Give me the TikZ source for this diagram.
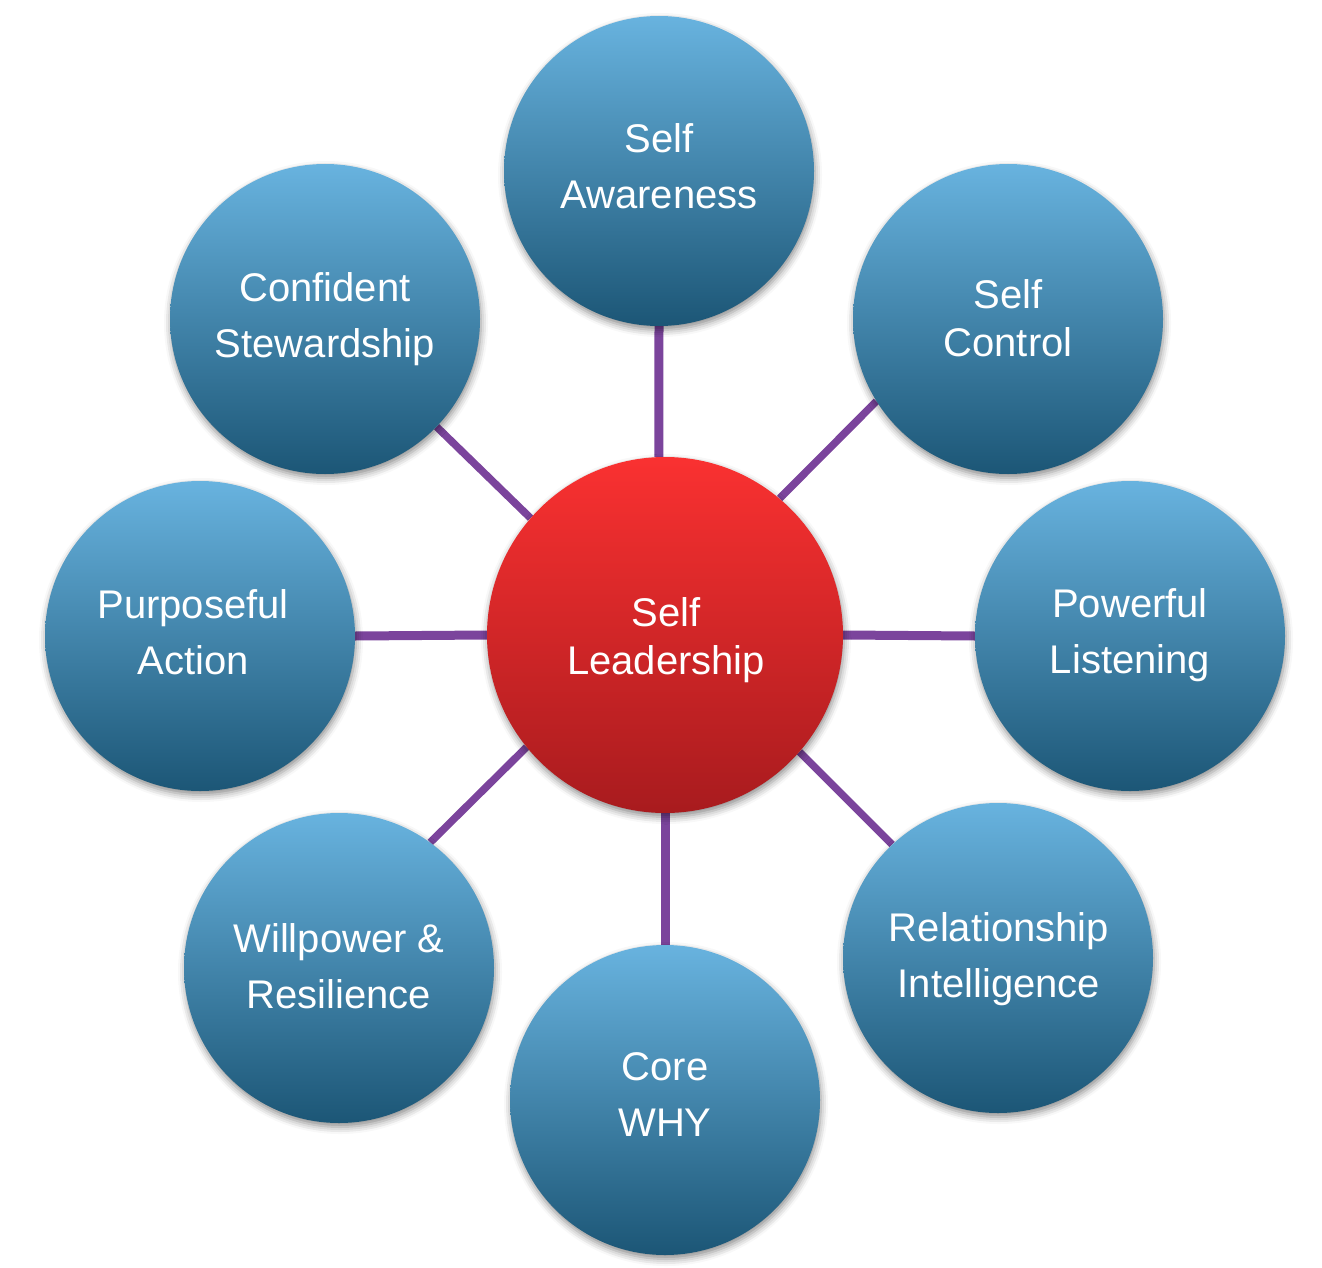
\documentclass[tikz,border=0pt]{standalone}
\usepackage{fontspec}
\setmainfont{Liberation Sans}
\usetikzlibrary{shadows.blur,backgrounds}
\definecolor{bluetop}{HTML}{68B3DF}
\definecolor{bluebot}{HTML}{1C5676}
\definecolor{redtop}{HTML}{FA3131}
\definecolor{redbot}{HTML}{A81B1E}
\definecolor{linkpurple}{HTML}{7B449C}
\tikzset{
  x=1pt, y=-1pt,
  bubble/.style={circle, minimum size=310pt, inner sep=0pt,
    top color=bluetop, bottom color=bluebot,
    blur shadow={shadow xshift=1pt, shadow yshift=-4pt, shadow blur radius=7pt, shadow opacity=45}},
  hub/.style={bubble, minimum size=356pt, top color=redtop, bottom color=redbot},
  bubbletext/.style={text=white, align=center, inner sep=0pt, font=\fontsize{40}{56}\selectfont},
  hubtext/.style={bubbletext, font=\fontsize{40}{48}\selectfont},
  straightlink/.style={draw=linkpurple, line width=9pt},
  diaglink/.style={draw=linkpurple, line width=7.5pt}
}
\begin{document}
\begin{tikzpicture}
\useasboundingbox (0,0) rectangle (1322,1268);
% circles
\node[hub] (C) at (665,635) {};
\node[bubble] (SA) at (659,171) {};
\node[bubble] (SC) at (1008,319) {};
\node[bubble] (PL) at (1130,636) {};
\node[bubble] (RI) at (998,958) {};
\node[bubble] (CW) at (665,1100) {};
\node[bubble] (WR) at (339,968) {};
\node[bubble] (PA) at (200,636) {};
\node[bubble] (CS) at (325,319) {};
% texts
\node[hubtext] (Ct) at (666,640) {Self\\Leadership};
\node[bubbletext] (SAt) at (659,166) {Self\\Awareness};
\node[bubbletext, font=\fontsize{40}{48}\selectfont] (SCt) at (1008,318) {Self\\Control};
\node[bubbletext] (PLt) at (1130,635) {Powerful\\Listening};
\node[bubbletext] (RIt) at (999,959) {Relationship\\Intelligence};
\node[bubbletext] (CWt) at (665,1095) {Core\\WHY};
\node[bubbletext] (WRt) at (339,966) {Willpower \&\\Resilience};
\node[bubbletext] (PAt) at (193,632) {Purposeful\\Action};
\node[bubbletext] (CSt) at (325,319) {Confident\\Stewardship};
% connectors
\begin{scope}[on background layer]
\draw[straightlink] (SA.south) -- (C.92);
\draw[straightlink] (C.south) -- (CW.north);
\draw[straightlink] (PA.east) -- (C.west);
\draw[straightlink] (C.east) -- (PL.west);
\draw[diaglink] (C.50) -- (SC.212);
\draw[diaglink] (C.139) -- (CS.316);
\draw[diaglink] (C.219) -- (WR.54);
\draw[diaglink] (C.319) -- (RI.133);
\end{scope}
\end{tikzpicture}
\end{document}
